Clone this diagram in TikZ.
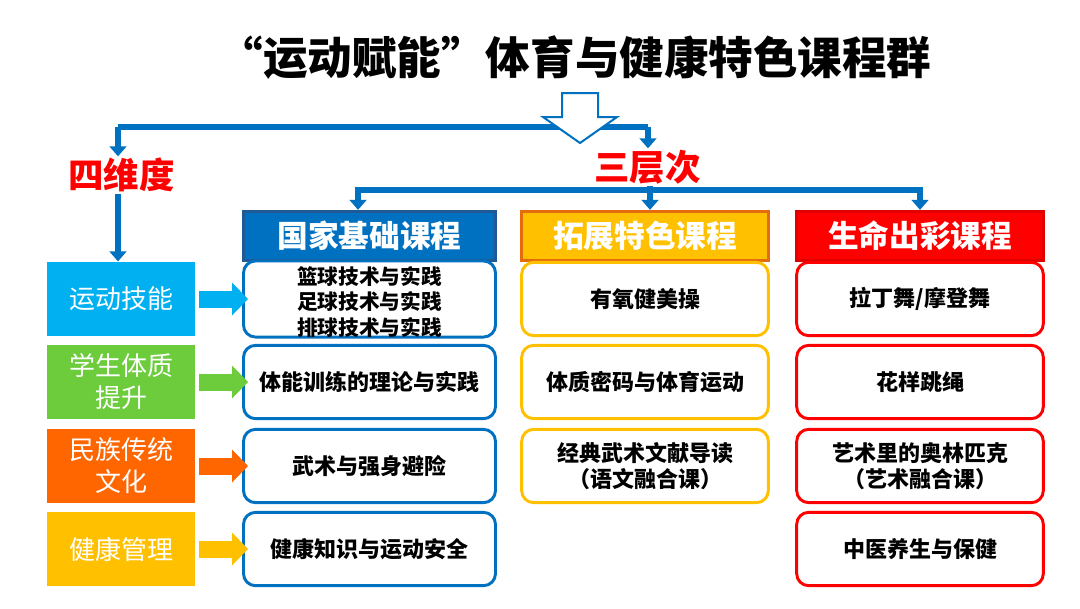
\documentclass[tikz,border=0pt]{standalone}
\usepackage{fontspec}
\setmainfont{Noto Sans CJK SC}
\usepackage{xcolor}
\usetikzlibrary{arrows.meta,positioning}
\definecolor{linkblue}{RGB}{0,112,192}
\definecolor{baseedge}{RGB}{31,90,150}
\definecolor{skyblue}{RGB}{0,176,240}
\definecolor{leafgreen}{RGB}{108,204,60}
\definecolor{deeporange}{RGB}{255,102,0}
\definecolor{gold}{RGB}{255,192,0}
\definecolor{extedge}{RGB}{228,108,10}
\definecolor{brightred}{RGB}{255,0,0}
\definecolor{lifeedge}{RGB}{224,0,0}

\begin{document}
\begin{tikzpicture}[x=0.75pt, y=-0.75pt,
  dimbox/.style={rectangle, minimum width=111pt, minimum height=56pt, inner sep=0pt,
                 align=center, text=white, font=\fontsize{19.5}{24}\selectfont},
  head/.style={rectangle, draw, line width=2.2pt, minimum height=37pt, inner sep=0pt,
               text=white, font=\fontsize{23}{26}\selectfont\bfseries},
  course/.style={rectangle, draw, rounded corners=9pt, line width=2.2pt, fill=white,
                 minimum width=185pt, minimum height=55pt, inner sep=0pt,
                 align=center, font=\fontsize{16.5}{20}\selectfont\bfseries},
  label/.style={inner sep=1pt, text=brightred, font=\fontsize{26.6}{30}\selectfont\bfseries},
  link/.style={draw=linkblue, line width=4.5pt},
  tip/.style={-{Triangle[width=12.5pt,length=7.5pt]}},
  fat/.style={line width=12.75pt, -{Triangle[width=24pt,length=12pt]},
              shorten <=3pt, shorten >=-4.5pt},
]
  \useasboundingbox (0,0) rectangle (1080,608);

  % Title
  \node[font=\fontsize{33.4}{36}\selectfont\bfseries] (title) at (575,58)
    {“运动赋能”体育与健康特色课程群};

  % Dimensions (left column)
  \node[dimbox, fill=skyblue]    (dim1) at (121,299) {运动技能};
  \node[dimbox, fill=leafgreen]  (dim2) at (121,382) {学生体质\\提升};
  \node[dimbox, fill=deeporange] (dim3) at (121,466) {民族传统\\文化};
  \node[dimbox, fill=gold]       (dim4) at (121,549) {健康管理};

  % Course headers
  \node[head, fill=linkblue, draw=baseedge, minimum width=189pt] (headBase) at (369.5,236) {国家基础课程};
  \node[head, fill=gold, draw=extedge, minimum width=185pt]      (headExt)  at (645,236)   {拓展特色课程};
  \node[head, fill=brightred, draw=lifeedge, minimum width=185pt] (headLife) at (920,236)  {生命出彩课程};

  % National base courses
  \node[course, draw=linkblue, minimum width=189pt] (base1) at (369.5,299)
    {\fontsize{15.5}{18.4}\selectfont\raisebox{-4pt}[\height][\depth]{\begin{tabular}{@{}c@{}}篮球技术与实践\\足球技术与实践\\排球技术与实践\end{tabular}}};
  \node[course, draw=linkblue, minimum width=189pt] (base2) at (369.5,382) {体能训练的理论与实践};
  \node[course, draw=linkblue, minimum width=189pt] (base3) at (369.5,466) {武术与强身避险};
  \node[course, draw=linkblue, minimum width=189pt] (base4) at (369.5,549) {健康知识与运动安全};

  % Extended courses
  \node[course, draw=gold] (ext1) at (645,299) {有氧健美操};
  \node[course, draw=gold] (ext2) at (645,382) {体质密码与体育运动};
  \node[course, draw=gold] (ext3) at (645,466) {经典武术文献导读\\（语文融合课）};

  % Life courses
  \node[course, draw=brightred] (life1) at (920,299) {拉丁舞/摩登舞};
  \node[course, draw=brightred] (life2) at (920,382) {花样跳绳};
  \node[course, draw=brightred] (life3) at (920,466) {艺术里的奥林匹克\\（艺术融合课）};
  \node[course, draw=brightred] (life4) at (920,549) {中医养生与保健};

  % Labels
  \node[label] (siwei)   at (121.5,175) {四维度};
  \node[label] (sanceng) at (647.5,167) {三层次};

  % Upper fork
  \coordinate (forkL) at (118,127);
  \coordinate (forkR) at (648,127);
  \draw[link] (forkL) -- (forkR);
  \draw[link, tip] (forkL) -- (forkL |- siwei.north);
  \draw[link, tip] (siwei.south -| forkL) -- (forkL |- dim1.north);
  \draw[link, tip] (forkR) -- (forkR |- sanceng.north);

  % Hollow arrow
  \draw[linkblue, line width=1.5pt, fill=white, line join=miter]
    (562,93) -- (598,93) -- (598,117) -- (617,117) -- (580,143)
    -- (543,117) -- (562,117) -- cycle;

  % Lower fork
  \coordinate (fork2) at (650,190);
  \draw[link] (sanceng.south -| fork2) -- (fork2);
  \draw[link, tip] (fork2) -| ([xshift=-8.6pt]headBase.north);
  \draw[link, tip] (fork2) -- (fork2 |- headExt.north);
  \draw[link, tip] (fork2) -| (headLife.north);

  % Dimension arrows
  \draw[fat, skyblue]    (dim1) -- (base1);
  \draw[fat, leafgreen]  (dim2) -- (base2);
  \draw[fat, deeporange] (dim3) -- (base3);
  \draw[fat, gold]       (dim4) -- (base4);
\end{tikzpicture}
\end{document}
